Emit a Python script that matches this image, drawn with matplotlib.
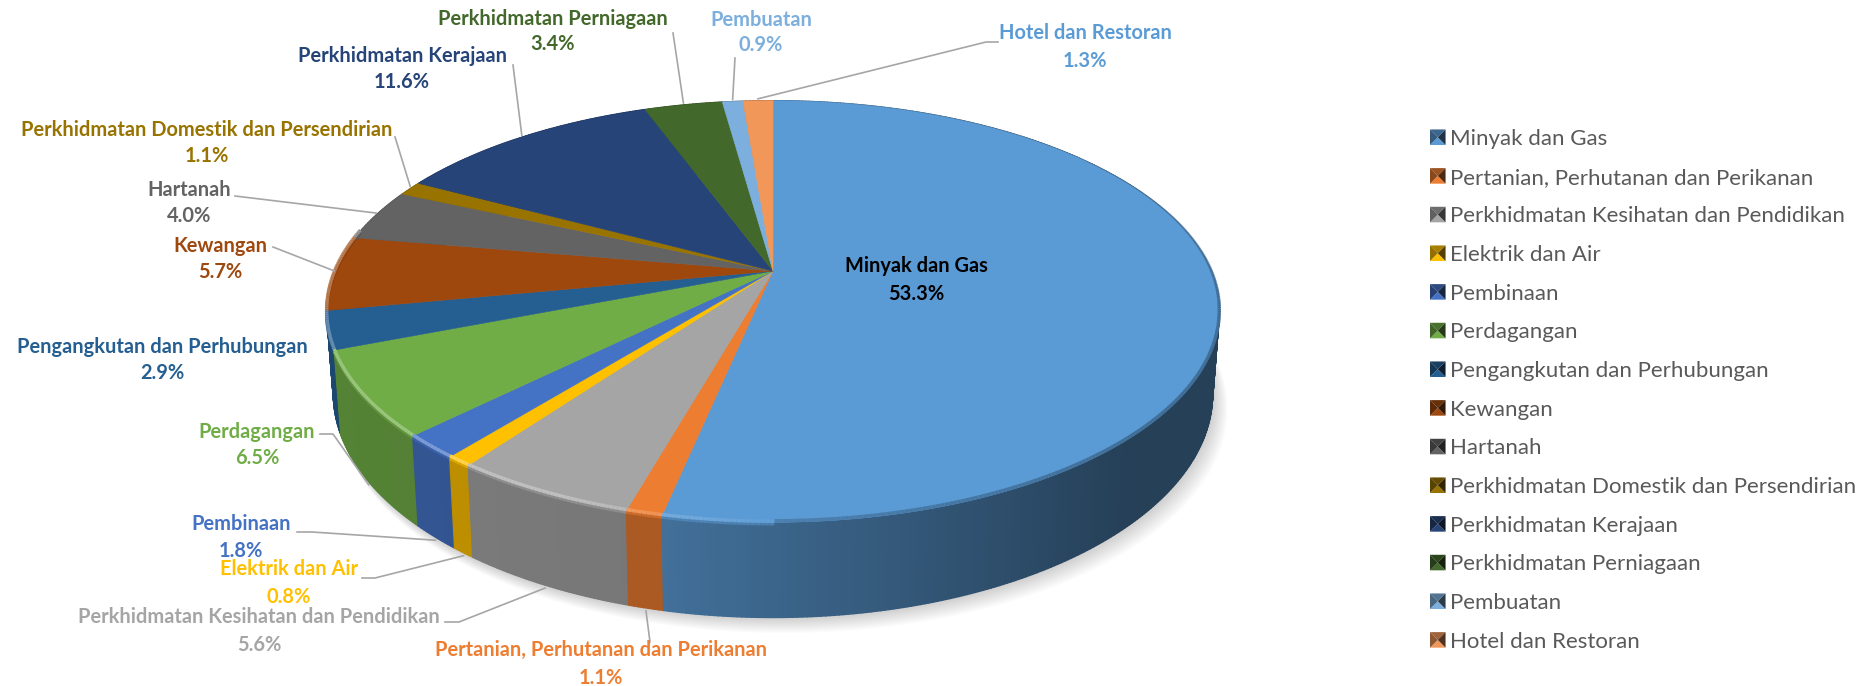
import numpy as np
import matplotlib
matplotlib.use('Agg')
import matplotlib.pyplot as plt
from matplotlib.patches import Polygon, Patch
from matplotlib.collections import PolyCollection, LineCollection
from matplotlib.colors import to_rgb
from matplotlib.legend_handler import HandlerBase

sektor = ['Minyak dan Gas', 'Pertanian, Perhutanan dan Perikanan',
          'Perkhidmatan Kesihatan dan Pendidikan', 'Elektrik dan Air', 'Pembinaan',
          'Perdagangan', 'Pengangkutan dan Perhubungan', 'Kewangan', 'Hartanah',
          'Perkhidmatan Domestik dan Persendirian', 'Perkhidmatan Kerajaan',
          'Perkhidmatan Perniagaan', 'Pembuatan', 'Hotel dan Restoran']
nilai = [53.3, 1.1, 5.6, 0.8, 1.8, 6.5, 2.9, 5.7, 4.0, 1.1, 11.6, 3.4, 0.9, 1.3]
warna = ['#5B9BD5', '#ED7D31', '#A5A5A5', '#FFC000', '#4472C4', '#70AD47', '#255E91',
         '#9E480E', '#636363', '#997300', '#264478', '#43682B', '#7CAFDD', '#F1975A']
warna_label = ['#000000', '#ED7D31', '#A5A5A5', '#FFC000', '#4472C4', '#70AD47', '#255E91',
               '#9E480E', '#636363', '#997300', '#264478', '#43682B', '#7CAFDD', '#5B9BD5']

# posisi label (piksel): tengah x, y baris 1, y baris 2
pos_label = [(916, 266, 294), (601, 650, 678), (259, 617, 645), (289, 569, 597),
             (241, 524, 551), (257, 432, 458), (162, 347, 373), (220, 246, 272),
             (189, 190, 216), (207, 130, 156), (402, 56, 82), (553, 19, 44),
             (761, 20, 45), (1085, 33, 61)]
# siku garis penunjuk (piksel), None = tiada garis
siku = [None, [(650, 642)], [(445, 622), (459, 622)], [(362, 578), (375, 578)],
        [(297, 532), (312, 532)], [(320, 434), (333, 434)], None, [(273, 247)],
        [(235, 196)], [(395, 137)], [(513, 65)], [(673, 33)], [(735, 58)],
        [(998, 42), (986, 42)]]

# geometri perspektif kek (piksel)
APEX = (773, 271)
A, B, K = 438, 203, 0.192
S, D = 0.985, 80

FS_LABEL = 14.4
FS_LEGEND = 16.0


def projek_atas(theta):
    x, y = np.sin(theta), np.cos(theta)
    w = 1 + K * y
    return APEX[0] + A * x / w, APEX[1] - B * y / w


def projek_bawah(theta):
    x, y = np.sin(theta), np.cos(theta)
    w = 1 + K * y
    return APEX[0] + S * A * x / w, APEX[1] - S * B * y / w + D / w


def faktor_sisi(theta):
    # sisi makin gelap ke arah kanan
    x = np.sin(theta)
    return np.interp(x, [-1, -0.2, 0.7, 1], [0.76, 0.72, 0.41, 0.41])


def gelap(warna_hex, f):
    return tuple(np.array(to_rgb(warna_hex)) * f)


def cerah(warna_hex, f):
    c = np.array(to_rgb(warna_hex))
    return tuple(c + (1 - c) * f)


class HandlerPetak(HandlerBase):
    def create_artists(self, legend, orig_handle, xdescent, ydescent, width, height, fontsize, trans):
        c = orig_handle.get_facecolor()[:3]
        x0, y0 = -xdescent, -ydescent
        x1, y1 = x0 + width, y0 + height
        xm, ym = (x0 + x1) / 2, (y0 + y1) / 2
        tiga = [([(x0, y0), (x1, y0), (xm, ym)], 1.0),
                ([(x0, y1), (x1, y1), (xm, ym)], 0.66),
                ([(x0, y0), (x0, y1), (xm, ym)], 0.58),
                ([(x1, y0), (x1, y1), (xm, ym)], 0.33)]
        return [Polygon(p, closed=True, facecolor=gelap(c, f), edgecolor='none', transform=trans)
                for p, f in tiga]


def main():
    plt.rcParams['font.family'] = ['Lato', 'DejaVu Sans']
    fig = plt.figure(figsize=(18.65, 6.86), dpi=100)
    ax = fig.add_axes([0, 0, 1, 1])
    ax.set_xlim(0, 1865)
    ax.set_ylim(686, 0)
    ax.axis('off')

    kum = np.cumsum([0] + nilai) / sum(nilai) * 2 * np.pi
    t_semua = np.linspace(0, 2 * np.pi, 721)

    # bayang lembut
    bx, by = projek_bawah(t_semua)
    for i in range(1, 13):
        ax.add_patch(Polygon(np.column_stack([APEX[0] + (bx - APEX[0]) * (1 + 0.0008 * i) + 0.9 * i, by + 1.3 * i]),
                             closed=True, facecolor='#000000', edgecolor='none', alpha=0.016, zorder=1))

    # sisi kek
    polys, warna_sisi = [], []
    for i in range(len(nilai)):
        n = max(2, int((kum[i + 1] - kum[i]) / np.radians(0.5)))
        t = np.linspace(kum[i], kum[i + 1], n + 1)
        tx, ty = projek_atas(t)
        ux, uy = projek_bawah(t)
        for j in range(n):
            polys.append([(tx[j], ty[j]), (tx[j + 1], ty[j + 1]), (ux[j + 1], uy[j + 1]), (ux[j], uy[j])])
            warna_sisi.append(gelap(warna[i], faktor_sisi((t[j] + t[j + 1]) / 2)))
    # belakang dahulu, hadapan kemudian
    urut = np.argsort([np.mean([p[1] for p in q]) for q in polys])
    ax.add_collection(PolyCollection([polys[k] for k in urut], facecolors=[warna_sisi[k] for k in urut],
                                     edgecolors=[warna_sisi[k] for k in urut], linewidths=1.0, zorder=2))

    # permukaan atas
    for i in range(len(nilai)):
        t = np.linspace(kum[i], kum[i + 1], max(3, int((kum[i + 1] - kum[i]) / np.radians(0.5))))
        tx, ty = projek_atas(t)
        pts = [APEX] + list(zip(tx, ty))
        ax.add_patch(Polygon(pts, closed=True, facecolor=warna[i], edgecolor=warna[i], linewidth=0.4, zorder=3))

    # serong di bibir kek
    for i in range(len(nilai)):
        n = max(2, int((kum[i + 1] - kum[i]) / np.radians(0.5)))
        t = np.linspace(kum[i], kum[i + 1], n + 1)
        tx, ty = projek_atas(t)
        for j in range(n):
            tm = (t[j] + t[j + 1]) / 2
            if np.cos(tm) > 0.6:
                continue
            sisi = gelap(warna[i], faktor_sisi(tm))
            tengah = tuple((np.array(to_rgb(warna[i])) + np.array(sisi)) / 2)
            if np.sin(tm) > 0:
                # tepi kanan: pudar ke warna gelap
                tebal = np.clip((0.6 - np.cos(tm)) / 0.8, 0, 1)
                seg = [(tx[j], ty[j] - 1.5 * tebal), (tx[j + 1], ty[j + 1] - 1.5 * tebal)]
                ax.add_collection(LineCollection([seg], colors=[tengah], linewidths=0.5 + 2.0 * tebal,
                                                 alpha=float(0.35 + 0.65 * tebal), zorder=4))
            elif np.cos(tm) < 0.2:
                kuat = np.clip(-np.sin(tm) * 2.2 + 0.1, 0, 1)
                seg = [(tx[j], ty[j] - 1), (tx[j + 1], ty[j + 1] - 1)]
                ax.add_collection(LineCollection([seg], colors=[cerah(warna[i], 0.30 * kuat)], linewidths=2.5, zorder=4))
                seg2 = [(tx[j], ty[j] + 1.5), (tx[j + 1], ty[j + 1] + 1.5)]
                ax.add_collection(LineCollection([seg2], colors=[tengah], linewidths=2.5, zorder=3.5))

    # label dan garis penunjuk
    for i, nama in enumerate(sektor):
        cx, y1, y2 = pos_label[i]
        ax.text(cx, y1, nama, color=warna_label[i], fontsize=FS_LABEL, fontweight='bold',
                ha='center', va='center', zorder=6)
        ax.text(cx, y2, f'{nilai[i]:.1f}%', color=warna_label[i], fontsize=FS_LABEL, fontweight='bold',
                ha='center', va='center', zorder=6)
        if siku[i] is None:
            continue
        tm = (kum[i] + kum[i + 1]) / 2
        if np.cos(tm) < -0.1:
            px, py = projek_bawah(tm)
            py += 3
        else:
            px, py = projek_atas(tm)
            py -= 2
        xs = [p[0] for p in siku[i]] + [px]
        ys = [p[1] for p in siku[i]] + [py]
        ax.plot(xs, ys, color='#A6A6A6', linewidth=1.2, zorder=5)

    # petunjuk
    handles = [Patch(facecolor=c) for c in warna]
    ax.legend(handles, sektor, handler_map={Patch: HandlerPetak()}, loc='upper left',
              bbox_to_anchor=(1430, 129), bbox_transform=ax.transData, frameon=False, borderpad=0,
              borderaxespad=0, fontsize=FS_LEGEND, labelcolor='#595959', handlelength=0.7,
              handleheight=0.7, handletextpad=0.18, labelspacing=0.84)

    fig.savefig('out.png', dpi=100)


if __name__ == "__main__":
    main()
